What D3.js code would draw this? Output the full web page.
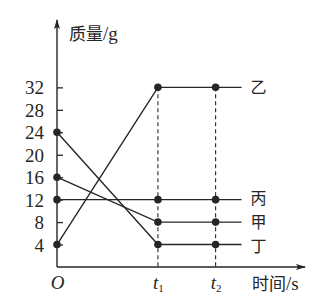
<!DOCTYPE html>
<html>
<head>
<meta charset="utf-8">
<script src="https://cdn.jsdelivr.net/npm/d3@7/dist/d3.min.js"></script>
<style>
  html, body { margin: 0; padding: 0; background: #fff; }
  svg { display: block; }
</style>
</head>
<body>
<script>
// Mass of four substances over time
const timeLabels = ["O", "t1", "t2"];
const timeValues = [0, 3.5, 5.5];
const lineEnd = 6.4;
const seriesNames = ["甲", "乙", "丙", "丁"];
const massAt0 = [16, 4, 12, 24];
const massAtT1 = [8, 32, 12, 4];
const massAtT2 = [8, 32, 12, 4];
const yTicks = [4, 8, 12, 16, 20, 24, 28, 32];

const W = 333, H = 297;
const ink = "#262626";
const serif = "'Liberation Serif', 'DejaVu Serif', serif";
const cjk = "'Noto Sans CJK SC', sans-serif";

const svg = d3.select("body").append("svg").attr("width", W).attr("height", H);

const x = d3.scaleLinear().domain([0, 8.6]).range([57, 305]);
const y = d3.scaleLinear().domain([0, 44]).range([267, 20]);

// arrow heads
const defs = svg.append("defs");
defs.append("marker")
  .attr("id", "arrow").attr("viewBox", "0 0 10 6")
  .attr("refX", 9).attr("refY", 3)
  .attr("markerWidth", 10).attr("markerHeight", 6)
  .attr("markerUnits", "userSpaceOnUse")
  .attr("orient", "auto")
  .append("path").attr("d", "M0,0 L10,3 L0,6 L2,3 Z").attr("fill", ink);

// axes lines
svg.append("line")
  .attr("x1", x(0)).attr("y1", y(0)).attr("x2", x(0)).attr("y2", y(44))
  .attr("stroke", ink).attr("stroke-width", 1.4).attr("marker-end", "url(#arrow)");
svg.append("line")
  .attr("x1", x(0)).attr("y1", y(0)).attr("x2", x(8.6)).attr("y2", y(0))
  .attr("stroke", ink).attr("stroke-width", 1.4).attr("marker-end", "url(#arrow)");

// y axis ticks (inside) and labels
const yAxis = d3.axisLeft(y).tickValues(yTicks).tickSizeInner(-6).tickSizeOuter(0).tickPadding(13);
const gy = svg.append("g").attr("transform", `translate(${x(0)},0)`).call(yAxis);
gy.select(".domain").remove();
gy.selectAll(".tick line").attr("stroke", ink).attr("stroke-width", 1.3);
gy.selectAll(".tick text")
  .attr("fill", ink).attr("font-family", serif).attr("font-size", 19)
  .attr("dy", "0.34em");

// x axis labels: O, t₁, t₂
const xAxis = d3.axisBottom(x).tickValues(timeValues).tickSize(0).tickPadding(6).tickFormat("");
const gx = svg.append("g").attr("transform", `translate(0,${y(0)})`).call(xAxis);
gx.select(".domain").remove();
gx.selectAll(".tick text").each(function(d, i) {
  const t = d3.select(this)
    .attr("fill", ink).attr("font-family", serif).attr("font-size", 19)
    .attr("font-style", "italic").attr("dy", "0.85em");
  const lab = timeLabels[i];
  t.append("tspan").text(lab[0]);
  if (lab.length > 1) {
    t.append("tspan").attr("font-style", "normal").attr("font-size", 11)
      .attr("dy", "0.25em").text(lab.slice(1));
  }
});

// axis titles
svg.append("text").attr("x", 69).attr("y", 40)
  .attr("font-family", cjk).attr("font-size", 17).attr("fill", ink)
  .text("质量")
  .append("tspan").attr("font-family", serif).attr("font-size", 19).text("/g");
svg.append("text").attr("x", 252).attr("y", 290)
  .attr("font-family", cjk).attr("font-size", 17).attr("fill", ink)
  .text("时间")
  .append("tspan").attr("font-family", serif).attr("font-size", 19).text("/s");

// dashed guides at t1 and t2
const maxMass = d3.max(massAtT1);
svg.selectAll("line.guide").data(timeValues.slice(1)).enter().append("line")
  .attr("class", "guide")
  .attr("x1", d => x(d)).attr("x2", d => x(d))
  .attr("y1", y(maxMass)).attr("y2", y(0))
  .attr("stroke", ink).attr("stroke-width", 1.1).attr("stroke-dasharray", "4,3");

// series lines
const series = seriesNames.map((name, i) => ({
  name,
  pts: [
    [timeValues[0], massAt0[i]],
    [timeValues[1], massAtT1[i]],
    [timeValues[2], massAtT2[i]]
  ]
}));
const line = d3.line().x(d => x(d[0])).y(d => y(d[1]));

series.forEach(s => {
  const last = s.pts[s.pts.length - 1];
  svg.append("path")
    .attr("d", line([...s.pts, [lineEnd, last[1]]]))
    .attr("fill", "none").attr("stroke", ink).attr("stroke-width", 1.4);
});
series.forEach(s => {
  svg.selectAll(null).data(s.pts).enter().append("circle")
    .attr("cx", d => x(d[0])).attr("cy", d => y(d[1])).attr("r", 3.8)
    .attr("fill", ink);
});

// end labels: push crowded ones apart, then re-centre the crowded group on its lines
const gap = 24;
const labs = series.map(s => ({ name: s.name, lineY: y(s.pts[s.pts.length - 1][1]) }))
  .sort((a, b) => a.lineY - b.lineY);
labs.forEach(d => { d.y = d.lineY; });
const crowded = labs.filter((d, i) =>
  (i > 0 && d.lineY - labs[i - 1].lineY < gap) ||
  (i < labs.length - 1 && labs[i + 1].lineY - d.lineY < gap));
for (let i = 1; i < labs.length; i++) {
  if (labs[i].y - labs[i - 1].y < gap) labs[i].y = labs[i - 1].y + gap;
}
if (crowded.length) {
  const shift = d3.mean(crowded, d => d.y) - d3.mean(crowded, d => d.lineY);
  crowded.forEach(d => { d.y -= shift; });
}
svg.selectAll("text.endlab").data(labs).enter().append("text")
  .attr("class", "endlab")
  .attr("x", x(lineEnd) + 9).attr("y", d => d.y)
  .attr("dy", "0.36em")
  .attr("font-family", cjk).attr("font-size", 16).attr("fill", ink)
  .text(d => d.name);
</script>
</body>
</html>
